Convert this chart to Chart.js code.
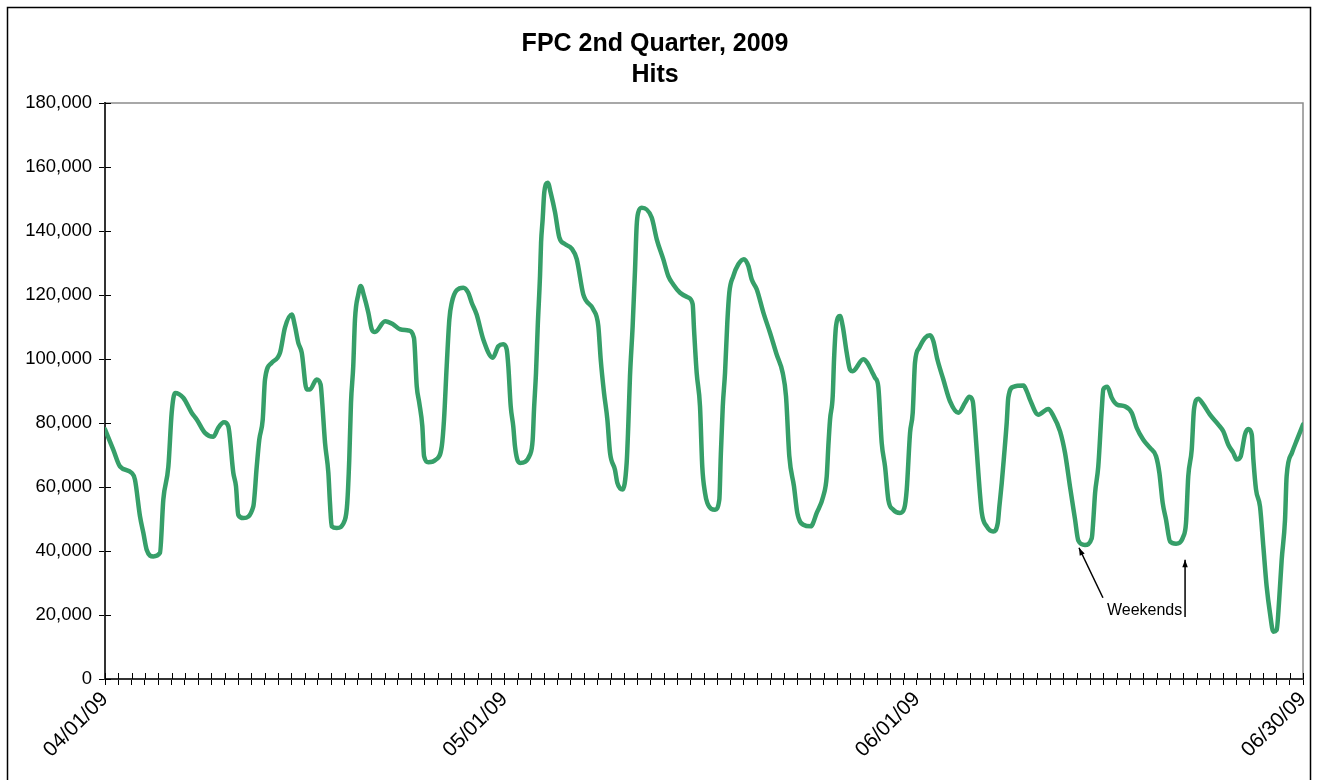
<!DOCTYPE html>
<html>
<head>
<meta charset="utf-8">
<script src="https://cdn.jsdelivr.net/npm/chart.js@4"></script>
<style>
  html, body { margin: 0; padding: 0; background: #fff; }
  #wrap { position: relative; width: 1317px; height: 780px; }
</style>
</head>
<body>
<div id="wrap"><canvas id="chart-line"></canvas></div>
<script>
// days after 04/01/09 (fractional) and hits at that point
const days = [
  0, 0.62, 1.13, 2.01, 2.25, 2.63, 2.88, 3.13, 3.63, 4.13,
  4.38, 4.76, 5.01, 5.26, 5.88, 6.51, 6.89, 7.51, 8.14, 8.51,
  8.94, 9.26, 9.64, 9.84, 10.01, 10.39, 11.14, 11.40, 11.59, 11.85,
  12.02, 12.52, 13.15, 13.52, 14.03, 14.27, 14.52, 14.78, 15.15, 15.40,
  15.90, 16.20, 16.32, 16.53, 16.78, 16.90, 17.03, 17.41, 18.03, 18.20,
  18.35, 18.48, 18.65, 18.78, 19.03, 19.21, 19.46, 19.78, 20.04, 20.28,
  21.04, 21.66, 22.16, 22.79, 23.21, 23.42, 23.61, 23.84, 23.97, 24.29,
  24.87, 25.30, 25.47, 25.67, 25.87, 26.05, 26.42, 26.92, 27.29, 27.55,
  27.92, 28.42, 29.13, 29.55, 29.92, 30.18, 30.30, 30.48, 30.67, 30.80,
  30.97, 31.18, 31.93, 32.13, 32.23, 32.38, 32.51, 32.68, 32.76, 32.88,
  33.00, 33.26, 33.48, 33.81, 34.13, 34.56, 35.06, 35.44, 35.93, 36.68,
  37.06, 37.24, 37.49, 37.74, 37.94, 38.31, 38.49, 38.89, 39.19, 39.31,
  39.44, 39.64, 39.82, 39.94, 40.06, 40.32, 41.07, 41.45, 41.94, 42.32,
  42.69, 43.20, 43.82, 44.15, 44.25, 44.45, 44.70, 44.87, 45.08, 45.25,
  45.83, 46.15, 46.26, 46.41, 46.58, 46.75, 46.90, 47.20, 47.58, 48.00,
  48.33, 48.58, 48.96, 49.46, 49.96, 50.46, 50.91, 51.16, 51.41, 51.76,
  52.01, 52.46, 53.02, 53.47, 53.96, 54.22, 54.34, 54.47, 54.67, 54.77,
  54.92, 55.22, 55.42, 55.72, 55.97, 56.17, 56.97, 57.27, 57.60, 57.85,
  58.09, 58.35, 58.60, 58.85, 59.22, 59.72, 60.05, 60.23, 60.48, 60.68,
  60.85, 61.17, 61.60, 61.98, 62.23, 62.53, 62.98, 63.48, 64.11, 64.61,
  64.93, 65.19, 65.36, 65.61, 65.87, 66.24, 66.73, 67.07, 67.19, 67.37,
  67.54, 67.74, 67.86, 68.24, 69.00, 69.25, 69.49, 70.11, 70.87, 71.20,
  71.75, 72.12, 72.50, 72.87, 73.12, 73.62, 74.13, 74.25, 74.38, 74.62,
  74.88, 75.00, 75.30, 75.63, 76.01, 76.63, 77.13, 77.51, 78.00, 78.51,
  78.96, 79.21, 79.46, 79.71, 80.01, 80.46, 81.01, 81.21, 81.38, 81.64,
  81.81, 82.13, 82.51, 83.01, 83.64, 84.01, 84.39, 84.76, 85.02, 85.32,
  85.64, 85.89, 86.15, 86.27, 86.47, 86.77, 87.02, 87.27, 87.52, 87.77,
  88.02, 88.21, 88.40, 88.65, 88.77, 89.17, 89.55, 90.00
];
const hits = [
  78000, 71700, 66400, 64400, 62300, 50800, 45700, 40400, 38300, 39400,
  56000, 66400, 83200, 89400, 87900, 83200, 81100, 76900, 75700, 78500,
  80200, 79000, 64400, 60200, 51300, 50300, 53900, 66400, 74800, 81100,
  93600, 98800, 102000, 109800, 113900, 110300, 105100, 102000, 90500, 90500,
  93600, 92000, 86300, 73800, 64400, 55000, 47700, 47200, 49800, 55000,
  68600, 86300, 97800, 112400, 120200, 122800, 119700, 114500, 109300, 108400,
  111800, 110800, 109300, 108900, 106600, 91500, 86300, 79000, 69600, 67700,
  68600, 72700, 81100, 97800, 112400, 117600, 121500, 122300, 120700, 117600,
  113900, 106100, 100400, 104000, 104600, 103000, 97800, 85200, 79000, 72700,
  68600, 67500, 70100, 74800, 84200, 95700, 110300, 125900, 136400, 143700,
  152000, 155100, 152000, 145800, 138000, 135900, 134500, 131200, 120200, 115500,
  110300, 99900, 89400, 81100, 70700, 65400, 61300, 59200, 67500, 79000,
  94600, 110300, 128000, 141600, 145800, 147300, 144200, 137400, 131200, 125900,
  123300, 120700, 119200, 117100, 109300, 95700, 85200, 66400, 58100, 55000,
  52900, 56000, 69600, 85200, 95700, 111300, 120700, 125900, 129600, 131200,
  129100, 124900, 121800, 114500, 108200, 101400, 95700, 88400, 69600, 60200,
  51900, 48200, 47700, 51900, 57100, 63300, 72700, 81100, 88400, 99900,
  110300, 113400, 110300, 102000, 96700, 96200, 99900, 98800, 96200, 94100,
  91500, 73800, 66400, 56000, 52900, 51900, 53400, 59200, 76900, 83200,
  98800, 103500, 106600, 107400, 105600, 99900, 93600, 86800, 83200, 86300,
  88200, 86800, 79000, 64400, 51900, 47700, 46100, 48700, 53900, 61300,
  69600, 80000, 87900, 91300, 91700, 89900, 87300, 82600, 84400, 82600,
  77400, 70700, 60000, 50000, 43300, 41900, 44000, 49800, 58100, 66400,
  84200, 90500, 91300, 87900, 85800, 85200, 83200, 78500, 74800, 72200,
  69600, 64400, 55000, 49800, 43000, 42300, 44500, 48700, 63300, 71700,
  84200, 87600, 85800, 82600, 79500, 77400, 73200, 70700, 68600, 69600,
  76400, 78100, 76400, 68600, 59200, 53900, 41400, 28900, 20600, 14800,
  15300, 24700, 37300, 49800, 63300, 70700, 74800, 79500
];

const tickDays = [0, 30, 61, 90];
const tickLabels = ["04/01/09", "05/01/09", "06/01/09", "06/30/09"];

// "Weekends" note, in data units
const noteText = "Weekends";
const notePos = [78.1, 21300];
const arrowTails = [[74.97, 25400], [81.14, 19400]];
const arrowHeads = [[73.17, 41000], [81.14, 37300]];

const FONT = "'Liberation Sans', Arial, sans-serif";

const frame = {
	id: "frame",
	beforeDraw(chart) {
		const c = chart.ctx;
		c.save();
		c.fillStyle = "#fff";
		c.fillRect(0, 0, chart.width, chart.height);
		c.strokeStyle = "#000";
		c.lineWidth = 1.5;
		c.strokeRect(7.5, 7.5, 1303, 900);
		const a = chart.chartArea;
		c.strokeStyle = "#8c8c8c";
		c.lineWidth = 1.5;
		c.strokeRect(a.left, a.top, a.right - a.left, a.bottom - a.top);
		c.restore();
	},
	afterDraw(chart) {
		// tick marks cross the axis lines
		const c = chart.ctx;
		const x = chart.scales.x;
		const y = chart.scales.y;
		c.save();
		c.strokeStyle = "#000";
		c.lineWidth = 1;
		c.beginPath();
		x.ticks.forEach((t) => {
			const px = Math.round(x.getPixelForValue(t.value)) + 0.5;
			c.moveTo(px, x.top - 6);
			c.lineTo(px, x.top);
		});
		y.ticks.forEach((t) => {
			const py = Math.round(y.getPixelForValue(t.value)) + 0.5;
			c.moveTo(y.right, py);
			c.lineTo(y.right + 6, py);
		});
		c.stroke();

		// annotation
		c.fillStyle = "#000";
		c.lineWidth = 1.5;
		arrowTails.forEach((tail, i) => {
			const x0 = x.getPixelForValue(tail[0]);
			const y0 = y.getPixelForValue(tail[1]);
			const x1 = x.getPixelForValue(arrowHeads[i][0]);
			const y1 = y.getPixelForValue(arrowHeads[i][1]);
			const ang = Math.atan2(y1 - y0, x1 - x0);
			c.beginPath();
			c.moveTo(x0, y0);
			c.lineTo(x1, y1);
			c.stroke();
			c.beginPath();
			c.moveTo(x1, y1);
			c.lineTo(x1 - 8 * Math.cos(ang - 0.35), y1 - 8 * Math.sin(ang - 0.35));
			c.lineTo(x1 - 8 * Math.cos(ang + 0.35), y1 - 8 * Math.sin(ang + 0.35));
			c.closePath();
			c.fill();
		});
		c.font = "16px " + FONT;
		c.textAlign = "center";
		c.textBaseline = "middle";
		c.fillText(noteText, x.getPixelForValue(notePos[0]), y.getPixelForValue(notePos[1]));
		c.restore();
	},
};

const data = {
	datasets: [
		{
			label: "Hits",
			data: days.map((d, i) => ({ x: d, y: hits[i] })),
			borderColor: "#369f69",
			borderWidth: 4.5,
			pointRadius: 0,
			cubicInterpolationMode: "monotone",
			borderJoinStyle: "round",
			borderCapStyle: "round",
			fill: false,
		},
	],
};

const options = {
	responsive: false,
	animation: false,
	layout: { padding: { left: 7, right: 14, top: 0, bottom: 0 } },
	plugins: {
		legend: { display: false },
		tooltip: { enabled: false },
		title: {
			display: true,
			text: ["FPC 2nd Quarter, 2009", "Hits"],
			color: "#000",
			font: { family: FONT, size: 25, weight: "bold", lineHeight: 1.26 },
			padding: { top: 28, bottom: 12 },
		},
	},
	scales: {
		x: {
			type: "linear",
			min: 0,
			max: 90,
			afterFit: (s) => {
				s.height = 101;
				s.paddingRight = 0;
				s.paddingLeft = 0;
			},
			ticks: {
				stepSize: 1,
				autoSkip: false,
				maxRotation: 45,
				minRotation: 45,
				padding: 2,
				color: "#000",
				font: { family: FONT, size: 21 },
				callback: (v) => {
					const i = tickDays.indexOf(v);
					return i >= 0 ? tickLabels[i] : "";
				},
			},
			grid: { drawOnChartArea: false, tickLength: 6, color: "#000" },
			border: { color: "#333", width: 2 },
		},
		y: {
			min: 0,
			max: 180000,
			afterFit: (s) => { s.width = 98; },
			ticks: {
				stepSize: 20000,
				padding: 7,
				color: "#000",
				font: { family: FONT, size: 18.5 },
				callback: (v) => v.toLocaleString("en-US"),
			},
			grid: { drawOnChartArea: false, tickLength: 6, color: "#000" },
			border: { color: "#333", width: 2 },
		},
	},
};

const ctx = document.getElementById("chart-line");
ctx.width = 1317;
ctx.height = 780;

new Chart(ctx, {
	type: "line",
	data: data,
	options: options,
	plugins: [frame],
});
</script>
</body>
</html>
